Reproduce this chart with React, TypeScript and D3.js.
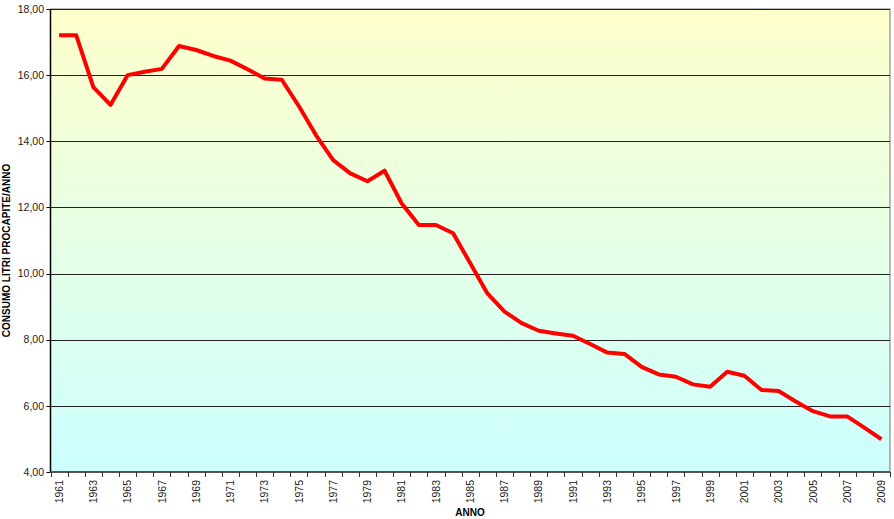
import React from "react";
import * as d3 from "d3";

const years: string[] = Array.from({ length: 49 }, (_, i) => String(1961 + i));
const consumo: number[] = [
  17.21, 17.21, 15.64, 15.1, 16.0, 16.1, 16.19, 16.88, 16.76, 16.58,
  16.44, 16.18, 15.9, 15.86, 15.06, 14.18, 13.43, 13.03, 12.79, 13.11,
  12.12, 11.47, 11.47, 11.22, 10.31, 9.4, 8.85, 8.5, 8.27, 8.19,
  8.12, 7.87, 7.61, 7.57, 7.18, 6.95, 6.88, 6.65, 6.58, 7.03,
  6.91, 6.48, 6.45, 6.13, 5.84, 5.68, 5.68, 5.34, 4.99,
];
const yTicks: number[] = [4, 6, 8, 10, 12, 14, 16, 18];
const yTitle = "CONSUMO LITRI PROCAPITE/ANNO";
const xTitle = "ANNO";

export default function App() {
  const W = 894, H = 519;
  const left = 50.5, right = 890, top = 9, bottom = 472;
  const x = d3.scaleBand<string>().domain(years).range([left, right]);
  const y = d3.scaleLinear().domain([4, 18]).range([bottom, top]);
  const line = d3
    .line<number>()
    .x((_, i) => (x(years[i]) as number) + x.bandwidth() / 2)
    .y((d) => y(d));
  const font = "Liberation Sans, Arial, sans-serif";
  const boundaries = years.map((yr) => x(yr) as number).concat([right]);
  return (
    <svg width={W} height={H} style={{ position: "absolute", left: 0, top: 0 }}>
      <defs>
        <linearGradient id="bg" x1="0" y1="0" x2="0" y2="1">
          <stop offset="0%" stopColor="#FFFFCC" />
          <stop offset="100%" stopColor="#CCFFFF" />
        </linearGradient>
      </defs>
      <rect x={left} y={top} width={right - left} height={bottom - top} fill="url(#bg)" stroke="#777" strokeWidth={1} />
      {yTicks.map((t) => (
        <g key={t}>
          {t !== 4 && (
            <line x1={left} x2={right} y1={Math.round(y(t)) + 0.5} y2={Math.round(y(t)) + 0.5} stroke="#222" strokeWidth={1} />
          )}
          <line x1={left - 4} x2={left} y1={Math.round(y(t)) + 0.5} y2={Math.round(y(t)) + 0.5} stroke="#000" />
          <text x={44} y={y(t)} dy="0.35em" textAnchor="end" fontFamily={font} fontSize={10.5} fill="#222">
            {t.toFixed(2).replace(".", ",")}
          </text>
        </g>
      ))}
      <line x1={left} x2={left} y1={top} y2={bottom} stroke="#000" strokeWidth={1.5} />
      <line x1={left} x2={right} y1={bottom} y2={bottom} stroke="#555" strokeWidth={2} />
      {boundaries.map((b, i) => (
        <line key={i} x1={Math.round(b) + 0.5} x2={Math.round(b) + 0.5} y1={bottom} y2={bottom + 5} stroke="#333" />
      ))}
      {years.map((yr, i) =>
        i % 2 === 0 ? (
          <text
            key={yr}
            transform={`translate(${(x(yr) as number) + x.bandwidth() / 2},${480}) rotate(-90)`}
            textAnchor="end"
            dy="0.35em"
            fontFamily={font}
            fontSize={10.5}
            fill="#222"
          >
            {yr}
          </text>
        ) : null
      )}
      <path d={line(consumo) || ""} fill="none" stroke="#FF0000" strokeWidth={4} strokeLinejoin="round" />
      <text x={470} y={516} textAnchor="middle" fontFamily={font} fontSize={10} fontWeight="bold" fill="#000">
        {xTitle}
      </text>
      <text
        transform={`translate(10,${(top + bottom) / 2 + 10}) rotate(-90)`}
        textAnchor="middle"
        fontFamily={font}
        fontSize={10}
        fontWeight="bold"
        fill="#000"
      >
        {yTitle}
      </text>
    </svg>
  );
}
